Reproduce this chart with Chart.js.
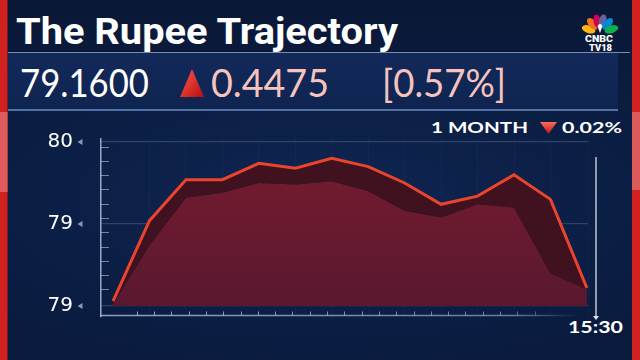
<!DOCTYPE html>
<html><head><meta charset="utf-8">
<script src="https://cdn.jsdelivr.net/npm/chart.js@4.4.1/dist/chart.umd.min.js"></script>
<style>
html,body{margin:0;padding:0;width:640px;height:360px;overflow:hidden;background:#0b1b3d;}
#bg{position:absolute;left:0;top:0;}
#wrap{position:absolute;left:0;top:0;width:640px;height:360px;}
</style></head><body>
<svg id="bg" width="640" height="360" xmlns="http://www.w3.org/2000/svg">
  <defs>
    <linearGradient id="topBg" x1="0" y1="0" x2="0" y2="1">
      <stop offset="0" stop-color="#0a1836"/><stop offset="1" stop-color="#0c1d40"/>
    </linearGradient>
    <linearGradient id="boxBg" x1="0" y1="0" x2="0" y2="1">
      <stop offset="0" stop-color="#12295a"/><stop offset="1" stop-color="#0f2450"/>
    </linearGradient>
    <radialGradient id="chartBg" cx="0.5" cy="0.35" r="0.75">
      <stop offset="0" stop-color="#0f2552"/><stop offset="1" stop-color="#091a3c"/>
    </radialGradient>
    <linearGradient id="upTri" x1="0" y1="0" x2="1" y2="1">
      <stop offset="0" stop-color="#ff5a4a"/><stop offset="1" stop-color="#b80d12"/>
    </linearGradient>
    <linearGradient id="dnTri" x1="0" y1="0" x2="0" y2="1">
      <stop offset="0" stop-color="#ff6a5a"/><stop offset="1" stop-color="#c0141a"/>
    </linearGradient>
    <linearGradient id="glow" x1="0" y1="0" x2="1" y2="0">
      <stop offset="0" stop-color="#8aa0c8" stop-opacity="0"/><stop offset="0.2" stop-color="#8aa0c8" stop-opacity="0.6"/>
      <stop offset="0.8" stop-color="#8aa0c8" stop-opacity="0.6"/><stop offset="1" stop-color="#8aa0c8" stop-opacity="0"/>
    </linearGradient>
  </defs>
  <rect x="0" y="0" width="640" height="112" fill="url(#topBg)"/>
  <rect x="0" y="112" width="640" height="248" fill="url(#chartBg)"/>
  <rect x="8" y="53" width="610" height="57" fill="url(#boxBg)"/>
  <line x1="8" y1="52.5" x2="630" y2="52.5" stroke="#9fb4d6" stroke-opacity="0.75" stroke-width="1.2"/>
  <line x1="8" y1="110" x2="618" y2="110" stroke="#7aa3dc" stroke-opacity="0.85" stroke-width="1.5"/>
  <line x1="60" y1="357" x2="600" y2="357" stroke="url(#glow)" stroke-width="2"/>
  <!-- side strips -->
  <rect x="0" y="0" width="7.5" height="360" fill="#d2201f"/>
  <rect x="0" y="112" width="7.5" height="80" fill="#e05c5c"/>
  <rect x="632" y="0" width="8" height="360" fill="#d2201f"/>
  <rect x="632" y="112" width="8" height="78" fill="#dc5a5a"/>
  <!-- title -->
  <text x="16" y="44" font-family="Roboto" font-weight="700" font-size="37" fill="#ffffff" textLength="382" lengthAdjust="spacingAndGlyphs">The Rupee Trajectory</text>
  <!-- logo -->
  <g>
    <ellipse cx="588.6" cy="29.3" rx="7" ry="3.8" fill="#fcb711" transform="rotate(-162 588.6 29.3)"/>
    <ellipse cx="592.3" cy="23.8" rx="7" ry="3.8" fill="#f37021" transform="rotate(-130 592.3 23.8)"/>
    <ellipse cx="597.3" cy="21.3" rx="7" ry="3.8" fill="#cc004c" transform="rotate(-103 597.3 21.3)"/>
    <ellipse cx="602.7" cy="21.3" rx="7" ry="3.8" fill="#6460aa" transform="rotate(-77 602.7 21.3)"/>
    <ellipse cx="607.7" cy="23.8" rx="7" ry="3.8" fill="#0089d0" transform="rotate(-50 607.7 23.8)"/>
    <ellipse cx="611.4" cy="29.3" rx="7" ry="3.8" fill="#0db14b" transform="rotate(-18 611.4 29.3)"/>
    <path d="M600 33 L597.5 26 Q600 22 602.5 26 Z" fill="#ffffff"/>
    <text x="585" y="42" font-family="Roboto" font-weight="900" font-size="9.5" fill="#ffffff" textLength="28" lengthAdjust="spacingAndGlyphs">CNBC</text>
    <text x="589" y="50.5" font-family="Roboto" font-weight="900" font-size="9.5" fill="#ffffff" textLength="23" lengthAdjust="spacingAndGlyphs">TV18</text>
  </g>
  <!-- quote row -->
  <text x="20" y="97" font-family="Lato" font-weight="400" font-size="38.5" fill="#ffffff" textLength="129" lengthAdjust="spacingAndGlyphs">79.1600</text>
  <polygon points="192,69 204,97 180,97" fill="url(#upTri)"/>
  <text x="211" y="97" font-family="Lato" font-weight="400" font-size="38.5" fill="#f6c3bd" textLength="118" lengthAdjust="spacingAndGlyphs">0.4475</text>
  <text x="382" y="97" font-family="Lato" font-weight="400" font-size="38.5" fill="#f6c3bd" textLength="124" lengthAdjust="spacingAndGlyphs">[0.57%]</text>
  <!-- legend -->
  <text x="431" y="133" font-family="Lato" font-weight="700" font-size="15.5" fill="#ffffff" textLength="97" lengthAdjust="spacingAndGlyphs">1 MONTH</text>
  <polygon points="540,122 557,122 548.5,134" fill="url(#dnTri)"/>
  <text x="562" y="133" font-family="Lato" font-weight="700" font-size="15.5" fill="#ffffff" textLength="60" lengthAdjust="spacingAndGlyphs">0.02%</text>
  <!-- end marker -->
  <line x1="596" y1="157" x2="596" y2="316" stroke="#dfe5ef" stroke-opacity="0.85" stroke-width="1.5"/>
  <polygon points="593,316 599,316 596,320" fill="#dfe5ef"/>
  <text x="568" y="333" font-family="Lato" font-weight="700" font-size="17" fill="#ffffff" textLength="55" lengthAdjust="spacingAndGlyphs">15:30</text>
</svg>
<div id="wrap"><canvas id="c" width="640" height="360"></canvas></div>
<script>
// ---- data ----
const categories = ['1','2','3','4','5','6','7','8','9','10','11','12','13','14'];
const rupeeClose = [79.03, 79.52, 79.77, 79.77, 79.87, 79.84, 79.90, 79.85, 79.75, 79.62, 79.67, 79.80, 79.65, 79.11];
const frontFace  = [79.01, 79.37, 79.66, 79.69, 79.75, 79.74, 79.76, 79.70, 79.58, 79.54, 79.62, 79.60, 79.20, 79.10];
const tickValues = [79, 79.5, 80];
const tickLabels = ['79', '79', '80'];

const decor = {
  id: 'decor',
  afterDraw(chart) {
    const { ctx, chartArea: a, scales: { y } } = chart;
    ctx.save();
    // y axis minor ticks
    ctx.strokeStyle = 'rgba(200,212,232,0.55)';
    ctx.lineWidth = 1;
    for (let k = 0; k < 11; k++) {
      const yy = Math.round(a.top + 7.7 + k * 14.26) + 0.5;
      ctx.beginPath(); ctx.moveTo(a.left, yy); ctx.lineTo(a.left + 8, yy); ctx.stroke();
    }
    // x axis line (fading right)
    const g = ctx.createLinearGradient(a.left, 0, a.left + 480, 0);
    g.addColorStop(0, 'rgba(190,205,230,0.75)');
    g.addColorStop(0.85, 'rgba(190,205,230,0.55)');
    g.addColorStop(1, 'rgba(190,205,230,0)');
    ctx.strokeStyle = g; ctx.lineWidth = 1.5;
    const by = a.bottom - 1.5;
    ctx.beginPath(); ctx.moveTo(a.left, by); ctx.lineTo(a.left + 480, by); ctx.stroke();
    ctx.lineWidth = 1;
    for (let xx = a.left + 35.7; xx < a.left + 440; xx += 17.3) {
      ctx.beginPath(); ctx.moveTo(Math.round(xx) + 0.5, by); ctx.lineTo(Math.round(xx) + 0.5, by - 4); ctx.stroke();
    }
    // small pointers next to tick labels
    ctx.fillStyle = 'rgba(160,175,205,0.85)';
    tickValues.forEach(v => {
      const py = y.getPixelForValue(v);
      ctx.beginPath(); ctx.moveTo(77.5, py); ctx.lineTo(82.5, py - 3); ctx.lineTo(82.5, py + 3); ctx.closePath(); ctx.fill();
    });
    ctx.restore();
  }
};

new Chart(document.getElementById('c'), {
  type: 'line',
  data: {
    datasets: [
      {
        label: 'USD/INR',
        data: categories.map((c, i) => ({ x: i, y: rupeeClose[i] })),
        borderColor: '#ea442d',
        borderWidth: 3,
        borderJoinStyle: 'miter',
        pointRadius: 0,
        tension: 0,
        fill: '+1',
        backgroundColor: 'rgba(66,17,30,0.97)',
        order: 0
      },
      {
        label: 'front',
        data: categories.map((c, i) => ({ x: i, y: frontFace[i] })),
        borderWidth: 0,
        borderColor: 'rgba(0,0,0,0)',
        pointRadius: 0,
        tension: 0,
        fill: { value: 79 },
        backgroundColor: (ctx) => {
          const a = ctx.chart.chartArea;
          if (!a) return 'rgb(104,27,45)';
          const gr = ctx.chart.ctx.createLinearGradient(0, a.top, 0, a.bottom);
          gr.addColorStop(0, 'rgb(122,28,46)');
          gr.addColorStop(1, 'rgb(86,24,48)');
          return gr;
        },
        order: 1
      }
    ]
  },
  options: {
    responsive: false,
    animation: false,
    devicePixelRatio: 1,
    layout: { padding: { left: 0, right: 52, top: 139, bottom: 43 } },
    plugins: { legend: { display: false }, tooltip: { enabled: false } },
    scales: {
      x: {
        type: 'linear', min: -0.33, max: 13.03,
        ticks: { display: false, stepSize: 1 },
        grid: { color: 'rgba(120,150,200,0.05)', drawTicks: false },
        border: { display: false },
        afterFit: (s) => { s.height = 0; }
      },
      y: {
        min: 78.933, max: 80.018,
        afterBuildTicks: (ax) => { ax.ticks = tickValues.map(v => ({ value: v })); },
        ticks: {
          callback: (v, i) => tickLabels[i],
          color: '#ffffff',
          font: { family: 'DejaVu Sans', size: 20 },
          padding: 28
        },
        grid: { color: 'rgba(170,190,225,0.22)', drawTicks: false, lineWidth: 1.2 },
        border: { display: true, color: 'rgba(200,212,232,0.75)', width: 1.5 },
        afterFit: (s) => { s.width = 101; }
      }
    }
  },
  plugins: [decor]
});
</script>
</body></html>
